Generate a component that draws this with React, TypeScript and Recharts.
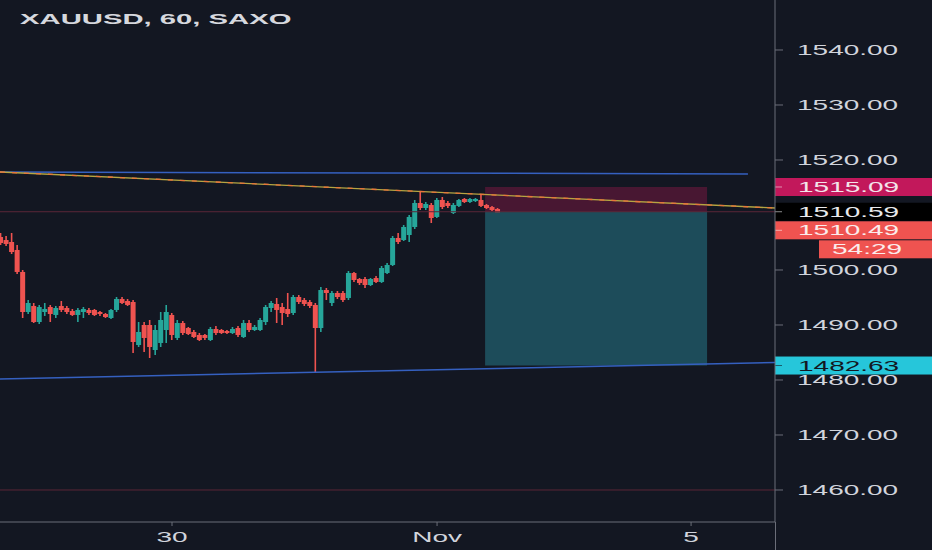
import React from 'react';
import { ComposedChart, Bar, XAxis, YAxis, ReferenceLine, ReferenceArea } from 'recharts';

// ---- data (hourly XAUUSD candles) ----
const opens = [
  1506.0, 1505.45, 1505.09, 1503.64, 1499.64,
  1492.36, 1493.45, 1490.54, 1492.36, 1493.27,
  1491.82, 1493.45, 1493.09, 1492.54, 1491.82,
  1492.36, 1492.73, 1492.73, 1492.36, 1492.0,
  1491.27, 1492.73, 1494.73, 1494.36, 1494.18,
  1486.36, 1490.0, 1490.0, 1485.45, 1486.73,
  1489.09, 1491.82, 1487.64, 1490.36, 1489.45,
  1488.73, 1488.18, 1488.18, 1487.27, 1489.27,
  1489.09, 1488.91, 1488.54, 1489.45, 1487.82,
  1490.36, 1489.09, 1489.09, 1490.54, 1493.09,
  1493.82, 1493.27, 1492.91, 1492.18, 1495.09,
  1494.54, 1494.18, 1493.64, 1489.45, 1496.36,
  1494.0, 1495.82, 1495.82, 1494.91, 1499.45,
  1498.36, 1498.36, 1497.27, 1498.54, 1497.82,
  1499.45, 1500.91, 1505.82, 1505.45, 1506.36,
  1507.82, 1512.18, 1511.27, 1511.82, 1509.64,
  1512.73, 1512.18, 1510.36, 1511.64, 1512.91,
  1512.36, 1512.54, 1512.73, 1511.82, 1511.45,
  1511.09,
];
const highs = [
  1506.73, 1506.18, 1506.73, 1504.54, 1500.0,
  1494.54, 1494.0, 1493.64, 1494.0, 1493.64,
  1493.45, 1494.36, 1493.45, 1492.91, 1493.09,
  1493.27, 1493.09, 1492.91, 1492.54, 1492.18,
  1492.91, 1495.09, 1495.09, 1494.73, 1494.54,
  1490.54, 1490.54, 1490.91, 1490.0, 1492.36,
  1493.64, 1492.18, 1490.91, 1490.73, 1489.64,
  1489.09, 1488.54, 1488.36, 1489.64, 1489.82,
  1489.27, 1489.09, 1489.64, 1489.82, 1490.91,
  1490.91, 1490.0, 1491.27, 1493.64, 1494.36,
  1494.91, 1494.0, 1495.82, 1495.45, 1495.45,
  1494.91, 1494.54, 1494.0, 1496.91, 1496.73,
  1496.18, 1496.18, 1496.18, 1499.82, 1499.64,
  1498.54, 1498.73, 1498.54, 1498.91, 1500.73,
  1501.27, 1506.18, 1506.73, 1508.18, 1510.0,
  1512.73, 1514.18, 1512.36, 1512.18, 1513.09,
  1513.27, 1512.54, 1512.18, 1512.91, 1513.09,
  1513.09, 1513.09, 1513.64, 1512.0, 1511.64,
  1511.27,
];
const lows = [
  1504.54, 1504.36, 1502.91, 1499.27, 1491.27,
  1492.0, 1490.36, 1490.18, 1491.64, 1490.54,
  1491.27, 1492.36, 1492.0, 1491.64, 1490.54,
  1491.27, 1491.82, 1491.64, 1491.64, 1491.27,
  1491.09, 1492.36, 1493.82, 1493.45, 1484.91,
  1486.0, 1485.09, 1484.0, 1484.54, 1486.0,
  1486.73, 1487.27, 1487.27, 1488.18, 1488.18,
  1487.64, 1487.09, 1487.27, 1487.09, 1488.18,
  1488.36, 1488.36, 1488.36, 1487.82, 1487.64,
  1488.73, 1488.91, 1488.91, 1490.0, 1492.36,
  1490.36, 1490.0, 1491.45, 1491.82, 1493.82,
  1493.45, 1493.09, 1481.45, 1488.73, 1494.54,
  1493.45, 1494.73, 1494.18, 1494.54, 1497.82,
  1497.27, 1496.73, 1497.09, 1497.64, 1497.64,
  1499.27, 1500.73, 1504.73, 1505.27, 1505.09,
  1507.45, 1510.91, 1510.91, 1508.54, 1509.45,
  1511.09, 1511.27, 1510.18, 1511.45, 1512.18,
  1512.18, 1512.36, 1511.45, 1511.09, 1510.73,
  1510.54,
];
const closes = [
  1504.91, 1504.73, 1503.27, 1499.64, 1492.36,
  1494.0, 1490.54, 1493.27, 1492.91, 1492.0,
  1493.09, 1492.73, 1492.36, 1491.82, 1492.73,
  1492.91, 1492.18, 1491.82, 1492.0, 1491.45,
  1492.73, 1494.73, 1494.0, 1493.64, 1486.91,
  1488.73, 1487.64, 1486.0, 1489.09, 1490.91,
  1492.36, 1488.18, 1490.36, 1488.54, 1488.36,
  1487.82, 1487.27, 1487.64, 1489.27, 1488.54,
  1488.54, 1488.54, 1489.27, 1488.18, 1490.36,
  1489.09, 1489.64, 1490.91, 1493.27, 1494.0,
  1492.73, 1492.18, 1492.0, 1495.09, 1494.18,
  1493.82, 1493.45, 1489.45, 1496.36, 1495.82,
  1495.82, 1495.09, 1494.54, 1499.45, 1498.18,
  1497.64, 1497.27, 1498.36, 1497.82, 1500.36,
  1500.91, 1505.82, 1505.09, 1507.82, 1509.64,
  1512.18, 1511.27, 1512.0, 1509.45, 1512.73,
  1511.45, 1511.64, 1511.82, 1512.73, 1512.36,
  1512.91, 1512.91, 1511.64, 1511.27, 1510.91,
  1510.49,
];

// time axis (bar index) and labels
const xDomain = [-0.15, 140.2];
const xTickIndex = [31, 79, 125];
const xTickLabels = ['30', 'Nov', '5'];

// price axis (1510.00 is hidden under the price tag in the reference)
const yDomain = [1454.18, 1549.09];
const yTicks = [1460, 1470, 1480, 1490, 1500, 1520, 1530, 1540];

// drawings
const upperChannel = [{ x: -0.15, y: 1517.82 }, { x: 135.3, y: 1517.45 }];
const lowerChannel = [{ x: -0.15, y: 1480.18 }, { x: 140.2, y: 1483.18 }];
const trendLine = [{ x: -0.15, y: 1517.82 }, { x: 140.2, y: 1511.27 }];
const positionBars = [87.7, 127.9];
const stopPrice = 1515.09;
const entryPrice = 1510.59;
const targetPrice = 1482.63;
const lastPrice = 1510.49;
const countdown = '54:29';
const lowLevel = 1460;

const BG = '#131722';
const UP = '#26a69a';
const DOWN = '#ef5350';
const TEXT = '#d1d4dc';
const AXIS = '#6b6e79';
const FONT = '"Liberation Sans", Arial, sans-serif';

const candles = opens.map((o, i) => ({
  i,
  open: o,
  high: highs[i],
  low: lows[i],
  close: closes[i],
  range: [lows[i], highs[i]],
}));

function Candle(props: any) {
  const { x, y, width, height, payload } = props;
  if (!payload || x == null) return null;
  const { open, close, high, low } = payload;
  const top = Math.min(y, y + height);
  const h = Math.abs(height);
  const k = high - low > 0 ? h / (high - low) : 0;
  const color = close >= open ? UP : DOWN;
  const cx = x + width / 2;
  const bTop = top + (high - Math.max(open, close)) * k;
  const bH = Math.max(1.5, Math.abs(open - close) * k);
  return (
    <g>
      <line x1={cx} x2={cx} y1={top} y2={top + h} stroke={color} strokeWidth={1.6} />
      <rect x={x} y={bTop} width={width} height={bH} fill={color} />
    </g>
  );
}

function YTick(props: any) {
  const { x, y, payload } = props;
  return (
    <text
      transform={`translate(${x},${y + 5}) scale(2,1)`}
      fill={TEXT}
      fontSize={14}
      fontFamily={FONT}
    >
      {Number(payload.value).toFixed(2)}
    </text>
  );
}

function XTick(props: any) {
  const { x, y, payload } = props;
  const idx = xTickIndex.indexOf(payload.value);
  return (
    <text
      transform={`translate(${x},${y + 16}) scale(2,1)`}
      fill={TEXT}
      fontSize={14}
      fontFamily={FONT}
      textAnchor="middle"
    >
      {idx >= 0 ? xTickLabels[idx] : ''}
    </text>
  );
}

function PriceTag(props: any) {
  const { viewBox, bg, fg, text, shift = 0, extra } = props;
  const vb = viewBox || {};
  const right = (vb.x ?? 0) + (vb.width ?? 0);
  const yy = (vb.y ?? 0) + shift;
  return (
    <g>
      <rect x={right} y={yy - 9} width={157} height={18} fill={bg} />
      <line x1={right} x2={right + 7} y1={yy} y2={yy} stroke={fg} strokeOpacity={0.6} />
      <text transform={`translate(${right + 23},${yy + 5}) scale(2,1)`} fill={fg} fontSize={14} fontFamily={FONT}>
        {text}
      </text>
      {extra ? (
        <g>
          <rect x={right + 44} y={yy + 10} width={113} height={18} fill={bg} />
          <text transform={`translate(${right + 57},${yy + 24}) scale(2,1)`} fill={fg} fontSize={14} fontFamily={FONT}>
            {extra}
          </text>
        </g>
      ) : null}
    </g>
  );
}

export default function App() {
  return (
    <div style={{ position: 'absolute', left: 0, top: 0, width: 932, height: 550, background: BG, overflow: 'hidden' }}>
      <ComposedChart width={932} height={550} data={candles} margin={{ top: 0, right: 0, bottom: 0, left: 0 }}>
        <XAxis
          dataKey="i"
          type="number"
          domain={xDomain}
          allowDataOverflow
          ticks={xTickIndex}
          interval={0}
          height={28}
          stroke={AXIS}
          tickSize={4}
          tickMargin={0}
          tick={<XTick />}
        />
        <YAxis
          type="number"
          orientation="right"
          width={157}
          domain={yDomain}
          allowDataOverflow
          ticks={yTicks}
          interval={0}
          stroke={AXIS}
          tickSize={8}
          tickMargin={14}
          tick={<YTick />}
        />
        <ReferenceArea
          x1={positionBars[0]}
          x2={positionBars[1]}
          y1={entryPrice}
          y2={stopPrice}
          fill="#c2185b"
          fillOpacity={0.3}
          stroke="none"
          ifOverflow="hidden"
        />
        <ReferenceArea
          x1={positionBars[0]}
          x2={positionBars[1]}
          y1={targetPrice}
          y2={entryPrice}
          fill="#2a8fa0"
          fillOpacity={0.45}
          stroke="none"
          ifOverflow="hidden"
        />
        <ReferenceLine y={lowLevel} stroke="#5b2637" strokeWidth={1} />
        <ReferenceLine
          y={entryPrice}
          stroke="#5b2637"
          strokeWidth={1}
          label={<PriceTag bg="#000000" fg="#e8e9ec" text={entryPrice.toFixed(2)} />}
        />
        <Bar dataKey="range" barSize={5} shape={<Candle />} isAnimationActive={false} />
        <ReferenceLine segment={upperChannel} stroke="#3560c0" strokeWidth={1.5} ifOverflow="hidden" />
        <ReferenceLine segment={lowerChannel} stroke="#3560c0" strokeWidth={1.5} ifOverflow="hidden" />
        <ReferenceLine segment={trendLine} stroke="#b5a642" strokeWidth={1.3} ifOverflow="hidden" />
        <ReferenceLine segment={trendLine} stroke="#e8743b" strokeWidth={1.3} strokeDasharray="5 7" ifOverflow="hidden" />
        <ReferenceLine
          y={stopPrice}
          stroke="none"
          label={<PriceTag bg="#c2185b" fg="#f3e4ea" text={stopPrice.toFixed(2)} />}
        />
        <ReferenceLine
          y={lastPrice}
          stroke="none"
          label={<PriceTag bg={DOWN} fg="#fbecec" text={lastPrice.toFixed(2)} shift={18} extra={countdown} />}
        />
        <ReferenceLine
          y={targetPrice}
          stroke="none"
          label={<PriceTag bg="#26c6da" fg={BG} text={targetPrice.toFixed(2)} />}
        />
      </ComposedChart>
      <div
        style={{
          position: 'absolute',
          left: 20,
          top: 11,
          fontFamily: FONT,
          fontWeight: 700,
          fontSize: 15,
          lineHeight: '15px',
          color: '#d6d8de',
          whiteSpace: 'nowrap',
          transform: 'scaleX(1.95)',
          transformOrigin: 'left top',
        }}
      >
        XAUUSD, 60, SAXO
      </div>
      <div style={{ position: 'absolute', left: 775, top: 522, width: 1, height: 28, background: AXIS }} />
    </div>
  );
}
